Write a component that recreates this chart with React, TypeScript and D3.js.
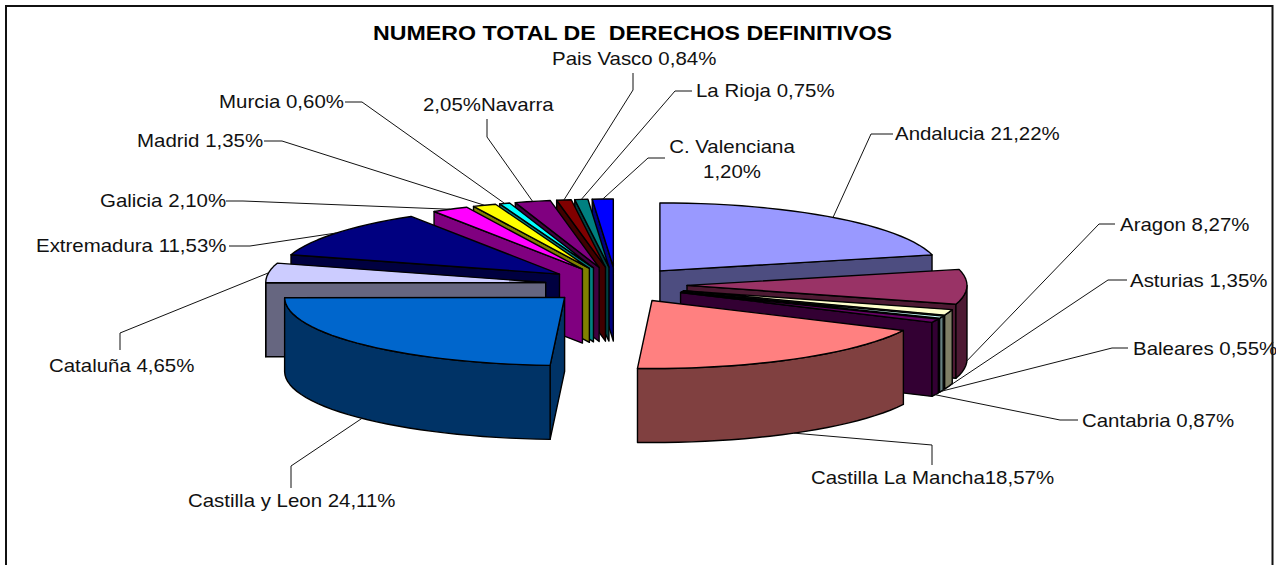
import React from "react";
import * as d3 from "d3";

const categories = ["Andalucia","Aragon","Asturias","Baleares","Cantabria","Castilla La Mancha","Castilla y Leon","Cataluña","Extremadura","Galicia","Madrid","Murcia","Navarra","Pais Vasco","La Rioja","C. Valenciana"];
const shares = [21.22,8.27,1.35,0.55,0.87,18.57,24.11,4.65,11.53,2.10,1.35,0.60,2.05,0.84,0.75,1.20];
const labelLines = [["Andalucia 21,22%"],["Aragon 8,27%"],["Asturias 1,35%"],["Baleares 0,55%"],["Cantabria 0,87%"],["Castilla La Mancha18,57%"],["Castilla y Leon 24,11%"],["Cataluña 4,65%"],["Extremadura 11,53%"],["Galicia 2,10%"],["Madrid 1,35%"],["Murcia 0,60%"],["2,05%Navarra"],["Pais Vasco 0,84%"],["La Rioja 0,75%"],["C. Valenciana","1,20%"]];
const topColors = ["#9999FF","#993366","#FFFFCC","#CCFFFF","#660066","#FF8080","#0066CC","#CCCCFF","#000080","#FF00FF","#FFFF00","#00FFFF","#800080","#800000","#008080","#0000FF"];
const sideColors = ["#4D4D80","#4D1A33","#808066","#668080","#330033","#804040","#003366","#666680","#000040","#800080","#808000","#008080","#400040","#400000","#004040","#000080"];
const title = "NUMERO TOTAL DE  DERECHOS DEFINITIVOS";

// label placement: text x, baseline y, leader elbow x/y, leader end x/y
const labelX = [895,1120,1130,1133,1082,811,188,49,36,100,137,219,423,552,696,732];
const labelY = [140,231,287,355,427,484,507,372,252,207,147,108,111,65,97,153];
const elbows = [[871,134],[1099,224],[1108,280],[1112,348],[1060,420],[932,445],[291,466],[120,333],[250,246],[243,201],[282,141],[362,102],[487,137],[633,90],[675,91],[648,158]];
const leaderEnds = [[893,134],[1115,224],[1127,280],[1128,348],[1078,420],[932,465],[291,488],[120,350],[229,246],[226,201],[264,141],[345,102],[487,119],[633,73],[692,91],[665,158]];
const paintOrder = [0,1,2,3,4,5,15,14,13,12,11,10,9,8,7,6];

const cx = 616, cy = 285, rx = 280, ry = 68, depth = 74, explodeX = 71, explodeY = 18;
const textScale = 1.105;

const pie = d3.pie<number>().sort(null).startAngle(0).endAngle(2 * Math.PI);
const arcs = pie(shares);
const lineGen = d3.line<[number, number]>();

function sliceCenter(start: number, end: number): [number, number] {
  const m = (start + end) / 2;
  return [cx + explodeX * Math.sin(m), cy - explodeY * Math.cos(m)];
}
function rim(c: [number, number], a: number, dy = 0): [number, number] {
  return [c[0] + rx * Math.sin(a), c[1] - ry * Math.cos(a) + dy];
}
function sweep(c: [number, number], a0: number, a1: number, dy = 0): [number, number][] {
  const n = Math.max(2, Math.ceil(Math.abs(a1 - a0) / 0.05));
  return d3.range(n + 1).map((i) => rim(c, a0 + ((a1 - a0) * i) / n, dy));
}
function closed(pts: [number, number][]) {
  return (lineGen(pts) || "") + "Z";
}
const faceVisible = (normal: number) => Math.cos(normal) < -1e-6;

export default function App() {
  const slices = arcs.map((arc, i) => {
    const c = sliceCenter(arc.startAngle, arc.endAngle);
    return { arc, i, c };
  });
  return (
    <svg width={1276} height={565} style={{ position: "absolute", left: 0, top: 0, background: "#fff" }} fontFamily="'Liberation Sans', Arial, sans-serif">
      <rect x={6} y={6} width={1266.5} height={570} fill="#fff" stroke="#111" strokeWidth={2} />
      <text transform="translate(373,40) scale(1.115,1)" fontSize={20.8} fontWeight="bold" fill="#000" style={{ whiteSpace: "pre" }}>{title}</text>
      <g stroke="#000" strokeWidth={1.4} strokeLinejoin="round">
        {paintOrder.map((idx) => {
          const { arc, c, i } = slices[idx];
          const a0 = arc.startAngle, a1 = arc.endAngle;
          const faces: React.ReactNode[] = [];
          if (faceVisible(a0 - Math.PI / 2)) {
            const o = rim(c, a0);
            faces.push(<path key="s" d={closed([c, o, [o[0], o[1] + depth], [c[0], c[1] + depth]])} fill={sideColors[i]} />);
          }
          if (faceVisible(a1 + Math.PI / 2)) {
            const o = rim(c, a1);
            faces.push(<path key="e" d={closed([c, o, [o[0], o[1] + depth], [c[0], c[1] + depth]])} fill={sideColors[i]} />);
          }
          const w0 = Math.max(a0, Math.PI / 2), w1 = Math.min(a1, (3 * Math.PI) / 2);
          if (w1 > w0) {
            const wall = [...sweep(c, w0, w1), ...sweep(c, w1, w0, depth)];
            faces.push(<path key="w" d={closed(wall)} fill={sideColors[i]} />);
          }
          faces.push(<path key="t" d={closed([c, ...sweep(c, a0, a1)])} fill={topColors[i]} />);
          return <g key={categories[i]}>{faces}</g>;
        })}
      </g>
      <g fill="none" stroke="#111" strokeWidth={1}>
        {slices.map(({ arc, c, i }) => {
          const m = (arc.startAngle + arc.endAngle) / 2;
          const front = m > Math.PI / 2 && m < (3 * Math.PI) / 2;
          const anchor = rim(c, m, front ? depth : 0);
          return <path key={categories[i]} d={lineGen([anchor, elbows[i] as [number, number], leaderEnds[i] as [number, number]]) || ""} />;
        })}
      </g>
      <g fontSize={18.5} fill="#111">
        {labelLines.map((lines, i) =>
          lines.map((t, j) => (
            <text key={t} transform={`translate(${labelX[i]},${labelY[i] + j * 25}) scale(${textScale},1)`} textAnchor={lines.length > 1 ? "middle" : "start"}>{t}</text>
          ))
        )}
      </g>
    </svg>
  );
}
